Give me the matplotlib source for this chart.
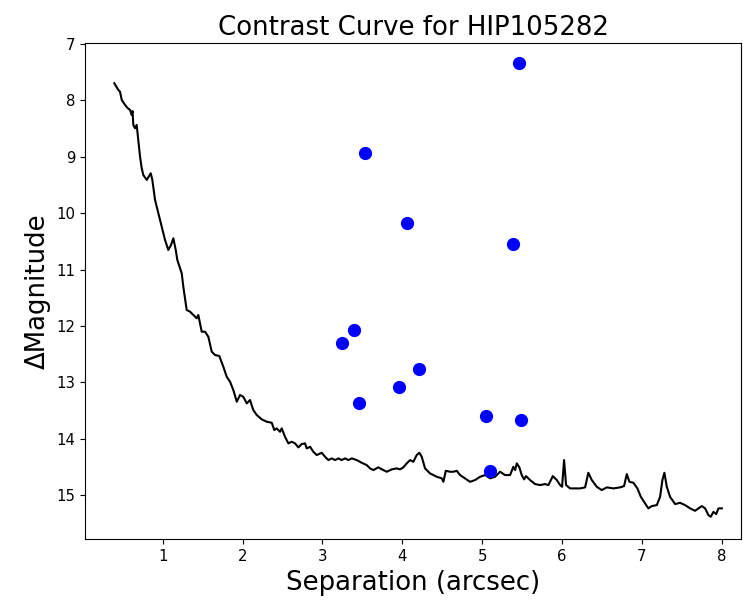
import numpy as np
import matplotlib
matplotlib.use("Agg")
import matplotlib.pyplot as plt

# contrast curve (separation in arcsec, delta magnitude)
sep = [0.394, 0.444, 0.465, 0.487, 0.528, 0.562, 0.591, 0.612, 0.622, 0.632,
       0.653, 0.674, 0.694, 0.716, 0.737, 0.757, 0.80, 0.82, 0.85, 0.870,
       0.904, 0.966, 1.029, 1.07, 1.104, 1.133, 1.163, 1.183, 1.238, 1.258,
       1.30, 1.342, 1.384, 1.426, 1.446, 1.467, 1.488, 1.53, 1.571, 1.614,
       1.655, 1.709, 1.759, 1.801, 1.843, 1.884, 1.927, 1.968, 2.009, 2.052,
       2.093, 2.134, 2.177, 2.24, 2.302, 2.365, 2.397, 2.427, 2.469, 2.49,
       2.531, 2.573, 2.615, 2.657, 2.698, 2.741, 2.782, 2.803, 2.845, 2.886,
       2.928, 2.991, 3.032, 3.074, 3.116, 3.158, 3.199, 3.241, 3.283, 3.324,
       3.367, 3.429, 3.492, 3.554, 3.596, 3.637, 3.70, 3.762, 3.805, 3.867,
       3.93, 3.971, 4.013, 4.055, 4.097, 4.138, 4.18, 4.213, 4.243, 4.284,
       4.347, 4.431, 4.494, 4.514, 4.544, 4.598, 4.639, 4.681, 4.723, 4.785,
       4.848, 4.911, 4.973, 5.036, 5.099, 5.161, 5.224, 5.286, 5.349, 5.39,
       5.412, 5.433, 5.465, 5.495, 5.524, 5.549, 5.599, 5.662, 5.725, 5.787,
       5.829, 5.884, 5.934, 5.975, 6.0, 6.025, 6.05, 6.1, 6.163, 6.225,
       6.288, 6.329, 6.372, 6.434, 6.497, 6.56, 6.642, 6.726, 6.776, 6.81,
       6.843, 6.893, 6.943, 6.986, 7.039, 7.081, 7.123, 7.186, 7.227, 7.256,
       7.281, 7.311, 7.352, 7.415, 7.477, 7.54, 7.603, 7.665, 7.707, 7.749,
       7.791, 7.832, 7.862, 7.895, 7.929, 7.958, 8.0]
dmag = [7.697, 7.816, 7.846, 7.993, 8.082, 8.14, 8.17, 8.259, 8.19, 8.436,
        8.495, 8.436, 8.702, 8.998, 9.204, 9.323, 9.411, 9.363, 9.293, 9.411,
        9.766, 10.121, 10.475, 10.652, 10.564, 10.445, 10.652, 10.83, 11.066, 11.303,
        11.716, 11.746, 11.805, 11.863, 11.805, 11.952, 12.101, 12.101, 12.19, 12.456,
        12.514, 12.532, 12.722, 12.899, 12.988, 13.135, 13.342, 13.223, 13.254, 13.371,
        13.312, 13.489, 13.578, 13.654, 13.697, 13.714, 13.844, 13.814, 13.874, 13.814,
        13.963, 14.08, 14.051, 14.08, 14.151, 14.092, 14.08, 14.169, 14.14, 14.229,
        14.287, 14.246, 14.317, 14.376, 14.346, 14.376, 14.346, 14.376, 14.346, 14.376,
        14.346, 14.376, 14.424, 14.465, 14.523, 14.553, 14.505, 14.553, 14.583, 14.541,
        14.523, 14.541, 14.505, 14.434, 14.376, 14.406, 14.287, 14.246, 14.317, 14.523,
        14.612, 14.672, 14.70, 14.761, 14.566, 14.583, 14.583, 14.566, 14.642, 14.70,
        14.761, 14.73, 14.672, 14.642, 14.70, 14.672, 14.583, 14.642, 14.642, 14.495,
        14.553, 14.434, 14.505, 14.642, 14.718, 14.66, 14.73, 14.801, 14.819, 14.801,
        14.819, 14.66, 14.73, 14.819, 14.849, 14.376, 14.819, 14.878, 14.878, 14.878,
        14.86, 14.601, 14.73, 14.849, 14.908, 14.86, 14.878, 14.86, 14.837, 14.624,
        14.761, 14.778, 14.878, 15.027, 15.144, 15.232, 15.191, 15.174, 15.027, 14.73,
        14.601, 14.849, 15.027, 15.156, 15.133, 15.174, 15.232, 15.275, 15.232, 15.191,
        15.232, 15.351, 15.381, 15.293, 15.333, 15.232, 15.232]

# detected companions
comp_sep = [5.465, 3.533, 4.055, 5.383, 3.399, 3.245, 4.206, 3.955, 3.462, 5.048, 5.483, 5.095]
comp_dmag = [7.342, 8.938, 10.179, 10.546, 12.071, 12.307, 12.768, 13.076, 13.36, 13.596, 13.667, 14.576]

fig = plt.figure(figsize=(7.43, 6.05), dpi=100)
ax = fig.add_axes([0.1144, 0.1086, 0.8829, 0.8198])

ax.plot(sep, dmag, color="black", linewidth=1.5)
ax.plot(comp_sep, comp_dmag, "o", color="blue", markersize=8.5)

ax.set_xlim(0.027, 8.24)
ax.set_ylim(15.78, 6.99)
ax.set_xticks([1, 2, 3, 4, 5, 6, 7, 8])
ax.set_yticks([7, 8, 9, 10, 11, 12, 13, 14, 15])
ax.tick_params(labelsize=10.7)

ax.set_title("Contrast Curve for HIP105282", fontsize=18.7)
ax.set_xlabel("Separation (arcsec)", fontsize=18.7)
ax.set_ylabel("ΔMagnitude", fontsize=18.7)

fig.savefig("out.png", dpi=100)
